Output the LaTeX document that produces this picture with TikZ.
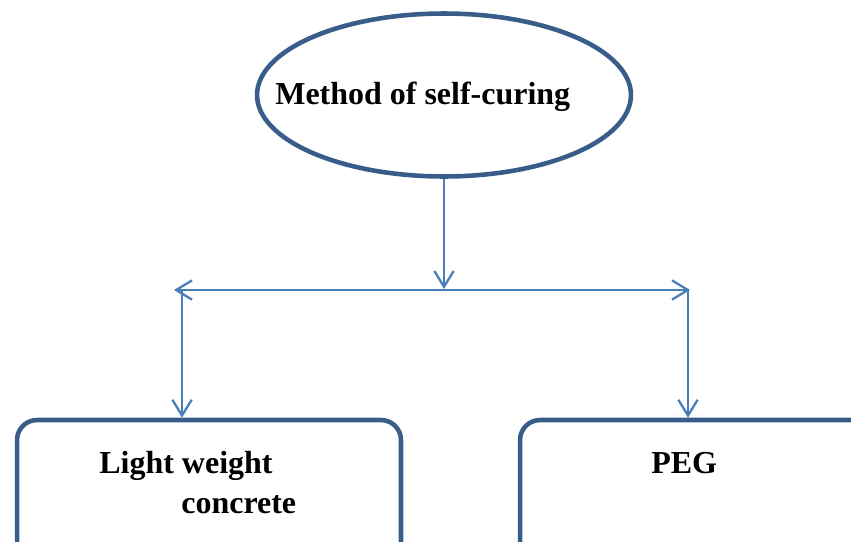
\documentclass[tikz,border=0pt]{standalone}
\usepackage{fontspec}
\setmainfont{Liberation Serif}
\usetikzlibrary{shapes.geometric,arrows.meta}

\definecolor{edgeblue}{RGB}{56,93,138}
\definecolor{linkblue}{RGB}{74,126,187}

\tikzset{
	shapeborder/.style={draw=edgeblue,line width=2.6pt},
	linkarrow/.style={draw=linkblue,line width=1.3pt,-{Straight Barb[length=9pt,width=11pt]}},
	labeltxt/.style={inner sep=0pt,anchor=base west,font=\bfseries\fontsize{18.2}{22}\selectfont},
}

\begin{document}
\begin{tikzpicture}[x=0.02cm,y=-0.02cm]
	\useasboundingbox (0,0) rectangle (851,541);
	% top ellipse and the two boxes
	\node [shapeborder,ellipse,minimum width=7.48cm,minimum height=3.26cm] (method) at (444,95) {};
	\node [shapeborder,rounded corners=0.4cm,minimum width=7.68cm,minimum height=4cm] (lwc) at (209,520) {};
	\node [shapeborder,rounded corners=0.4cm,minimum width=7.2cm,minimum height=4cm] (peg) at (700,520) {};
	\node [labeltxt] (methodtxt) at (275,104) {Method of self-curing};
	\node [labeltxt] (lwctxta) at (99,473) {Light weight};
	\node [labeltxt] (lwctxtb) at (181,513) {concrete};
	\node [labeltxt] (pegtxt) at (651,473) {PEG};
	% connectors
	\coordinate (split) at (444,289);
	\coordinate (leftend) at (174,290);
	\coordinate (rightend) at (690,290);
	\coordinate (leftdrop) at (182,290);
	\coordinate (rightdrop) at (688,290);
	\draw [linkarrow] (method.south) -- (split);
	\draw [linkarrow,{Straight Barb[length=9pt,width=11pt]}-{Straight Barb[length=9pt,width=11pt]}] (leftend) -- (rightend);
	\draw [linkarrow] (leftdrop) -- (leftdrop |- lwc.north);
	\draw [linkarrow] (rightdrop) -- (rightdrop |- peg.north);
\end{tikzpicture}
\end{document}
